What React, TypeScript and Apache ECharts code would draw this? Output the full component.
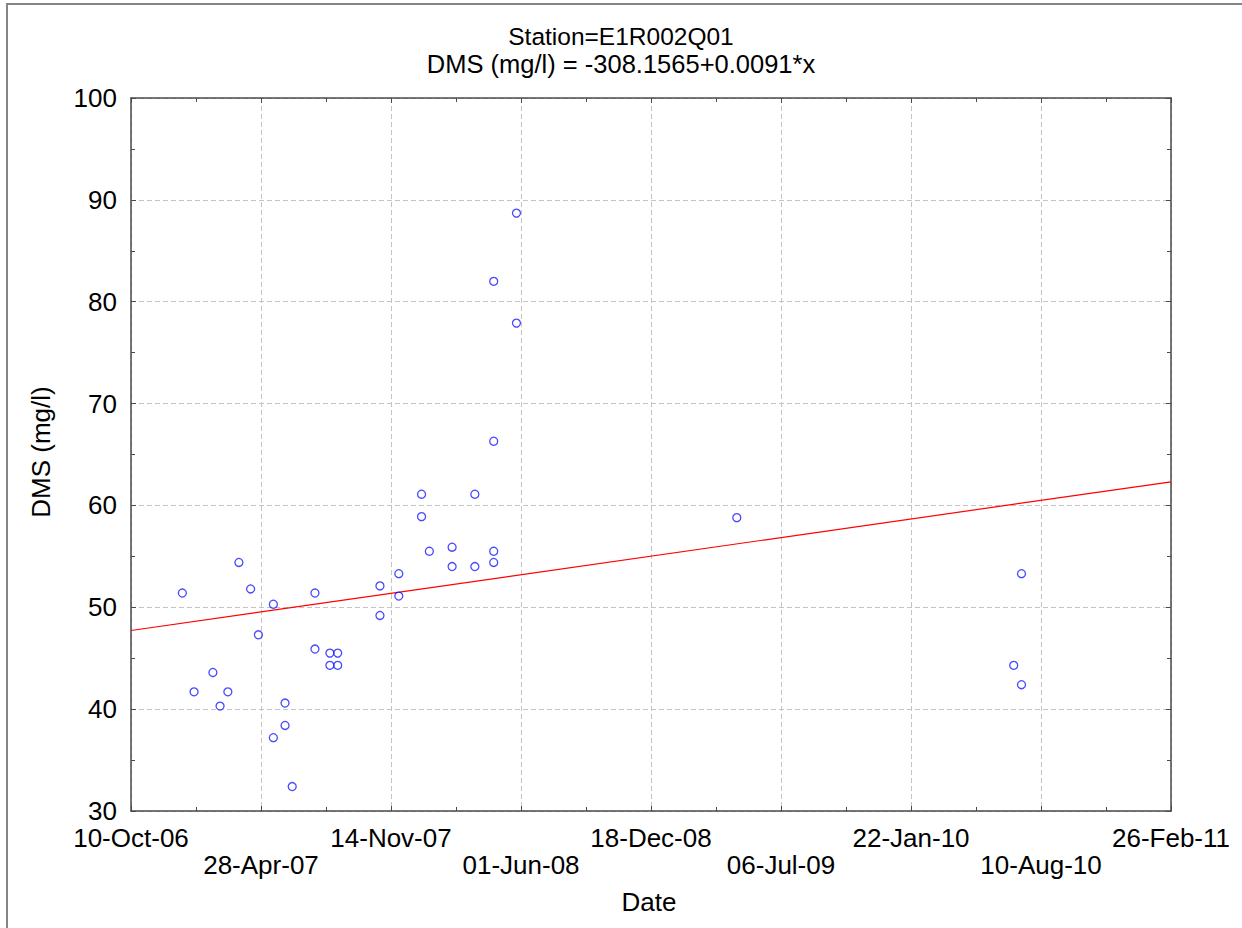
import React, { useEffect, useRef } from "react";
import * as echarts from "echarts";

// Sampling dates and DMS values (mg/l)
const sampleDates = [
  "2006-12-28", "2007-01-15", "2007-02-13", "2007-02-24", "2007-03-08",
  "2007-03-25", "2007-04-12", "2007-04-24", "2007-05-17", "2007-05-17",
  "2007-06-04", "2007-06-04", "2007-06-15", "2007-07-20", "2007-07-20",
  "2007-08-12", "2007-08-12", "2007-08-24", "2007-08-24", "2007-10-28",
  "2007-10-28", "2007-11-26", "2007-11-26", "2007-12-31", "2007-12-31",
  "2008-01-12", "2008-02-16", "2008-02-16", "2008-03-22", "2008-03-22",
  "2008-04-20", "2008-04-20", "2008-04-20", "2008-04-20", "2008-05-25",
  "2008-05-25", "2009-04-29", "2010-06-29", "2010-07-11", "2010-07-11",
];
const dmsValues = [
  51.4, 41.7, 43.6, 40.3, 41.7,
  54.4, 51.8, 47.3, 50.3, 37.2,
  40.6, 38.4, 32.4, 51.4, 45.9,
  45.5, 44.3, 45.5, 44.3, 52.1,
  49.2, 53.3, 51.1, 61.1, 58.9,
  55.5, 55.9, 54.0, 61.1, 54.0,
  82.0, 66.3, 55.5, 54.4, 88.7,
  77.9, 58.8, 44.3, 53.3, 42.4,
];

// Regression line end points
const fitLineDates = ["2006-10-10", "2011-02-26"];
const fitLineValues = [47.72, 62.32];

// Axis settings
const xTickLabels = [
  "10-Oct-06", "28-Apr-07", "14-Nov-07", "01-Jun-08", "18-Dec-08",
  "06-Jul-09", "22-Jan-10", "10-Aug-10", "26-Feb-11",
];
const xMin = 39000; // 10-Oct-06 as day serial
const xMax = 40600; // 26-Feb-11
const xInterval = 200;
const yMin = 30;
const yMax = 100;
const yInterval = 10;

const titleLine1 = "Station=E1R002Q01";
const titleLine2 = "DMS (mg/l) = -308.1565+0.0091*x";
const xName = "Date";
const yName = "DMS (mg/l)";

// day serial (1900 date system)
function toSerial(iso: string): number {
  const [y, m, d] = iso.split("-").map(Number);
  return Math.round((Date.UTC(y, m - 1, d) - Date.UTC(1899, 11, 30)) / 86400000);
}

const FONT = "'Liberation Sans', Arial, sans-serif";

export default function App() {
  const ref = useRef<HTMLDivElement>(null);
  useEffect(() => {
    if (!ref.current) return;
    const chart = echarts.init(ref.current, null, { renderer: "svg" });
    const points = sampleDates.map((d, i) => [toSerial(d), dmsValues[i]]);
    const fit = fitLineDates.map((d, i) => [toSerial(d), fitLineValues[i]]);
    const axisLineColor = "#4a4a4a";
    const commonTick = {
      show: true,
      inside: true,
      length: 5,
      lineStyle: { color: axisLineColor, width: 1 },
    };
    const commonMinor = {
      show: true,
      splitNumber: 2,
      length: 4,
      lineStyle: { color: axisLineColor, width: 1 },
    };
    chart.setOption({
      animation: false,
      backgroundColor: "#ffffff",
      textStyle: { fontFamily: FONT },
      title: [
        {
          text: titleLine1,
          left: "center",
          top: 21.5,
          textStyle: {
            fontFamily: FONT,
            fontSize: 24.5,
            fontWeight: "normal",
            color: "#000",
            lineHeight: 20,
          },
        },
        {
          text: titleLine2,
          left: "center",
          top: 49,
          textStyle: {
            fontFamily: FONT,
            fontSize: 25.5,
            fontWeight: "normal",
            color: "#000",
            lineHeight: 20,
          },
        },
      ],
      grid: { left: 131, right: 71, top: 98, bottom: 117, containLabel: false },
      xAxis: [
        {
          type: "value",
          min: xMin,
          max: xMax,
          interval: xInterval,
          position: "bottom",
          axisLine: { show: true, lineStyle: { color: axisLineColor, width: 1.5 } },
          axisTick: commonTick,
          minorTick: commonMinor,
          splitLine: {
            show: true,
            lineStyle: { color: "#c4c4c4", type: [5, 3], width: 1 },
          },
          axisLabel: {
            show: true,
            margin: 15,
            fontFamily: FONT,
            fontSize: 26,
            color: "#000",
            lineHeight: 24,
            hideOverlap: false,
            showMinLabel: true,
            showMaxLabel: true,
            formatter: (v: number) => {
              const idx = Math.round((v - xMin) / xInterval);
              const lbl = xTickLabels[idx] ?? "";
              return idx % 2 === 0 ? lbl : "{gap|}\n" + lbl;
            },
            rich: {
              gap: { lineHeight: 27, fontSize: 26 },
            },
          },
        },
        {
          type: "value",
          min: xMin,
          max: xMax,
          interval: xInterval,
          position: "top",
          axisLine: { show: true, lineStyle: { color: axisLineColor, width: 1.5 } },
          axisTick: commonTick,
          minorTick: commonMinor,
          splitLine: { show: false },
          axisLabel: { show: false },
        },
      ],
      yAxis: [
        {
          type: "value",
          min: yMin,
          max: yMax,
          interval: yInterval,
          position: "left",
          axisLine: { show: true, lineStyle: { color: axisLineColor, width: 1.5 } },
          axisTick: commonTick,
          minorTick: commonMinor,
          splitLine: {
            show: true,
            lineStyle: { color: "#c4c4c4", type: [5, 3], width: 1 },
          },
          axisLabel: {
            show: true,
            margin: 14,
            fontFamily: FONT,
            fontSize: 26,
            color: "#000",
            lineHeight: 20,
            showMinLabel: true,
            showMaxLabel: true,
          },
        },
        {
          type: "value",
          min: yMin,
          max: yMax,
          interval: yInterval,
          position: "right",
          axisLine: { show: true, lineStyle: { color: axisLineColor, width: 1.5 } },
          axisTick: commonTick,
          minorTick: commonMinor,
          splitLine: { show: false },
          axisLabel: { show: false },
        },
      ],
      graphic: [
        {
          type: "rect",
          silent: true,
          shape: { x: 7, y: 4, width: 1400, height: 1100 },
          style: { fill: "none", stroke: "#858585", lineWidth: 2 },
          z: 100,
        },
        {
          type: "text",
          x: 649,
          y: 902,
          style: {
            text: xName,
            fontFamily: FONT,
            fontSize: 26,
            fill: "#000",
            align: "center",
            verticalAlign: "middle",
          },
        },
        {
          type: "text",
          x: 41,
          y: 452,
          rotation: Math.PI / 2,
          style: {
            text: yName,
            fontFamily: FONT,
            fontSize: 26,
            fill: "#000",
            align: "center",
            verticalAlign: "middle",
          },
        },
      ],
      series: [
        {
          type: "line",
          xAxisIndex: 0,
          yAxisIndex: 0,
          data: fit,
          symbol: "none",
          lineStyle: { color: "#ff0000", width: 1.2 },
          z: 3,
          silent: true,
        },
        {
          type: "scatter",
          xAxisIndex: 0,
          yAxisIndex: 0,
          data: points,
          symbol: "circle",
          symbolSize: 8,
          itemStyle: {
            color: "rgba(0,0,0,0)",
            borderColor: "#1a1aff",
            borderWidth: 1.3,
          },
          z: 4,
        },
      ],
    });
    return () => chart.dispose();
  }, []);
  return (
    <div
      ref={ref}
      style={{ position: "fixed", left: 0, top: 0, width: 1242, height: 928 }}
    />
  );
}
